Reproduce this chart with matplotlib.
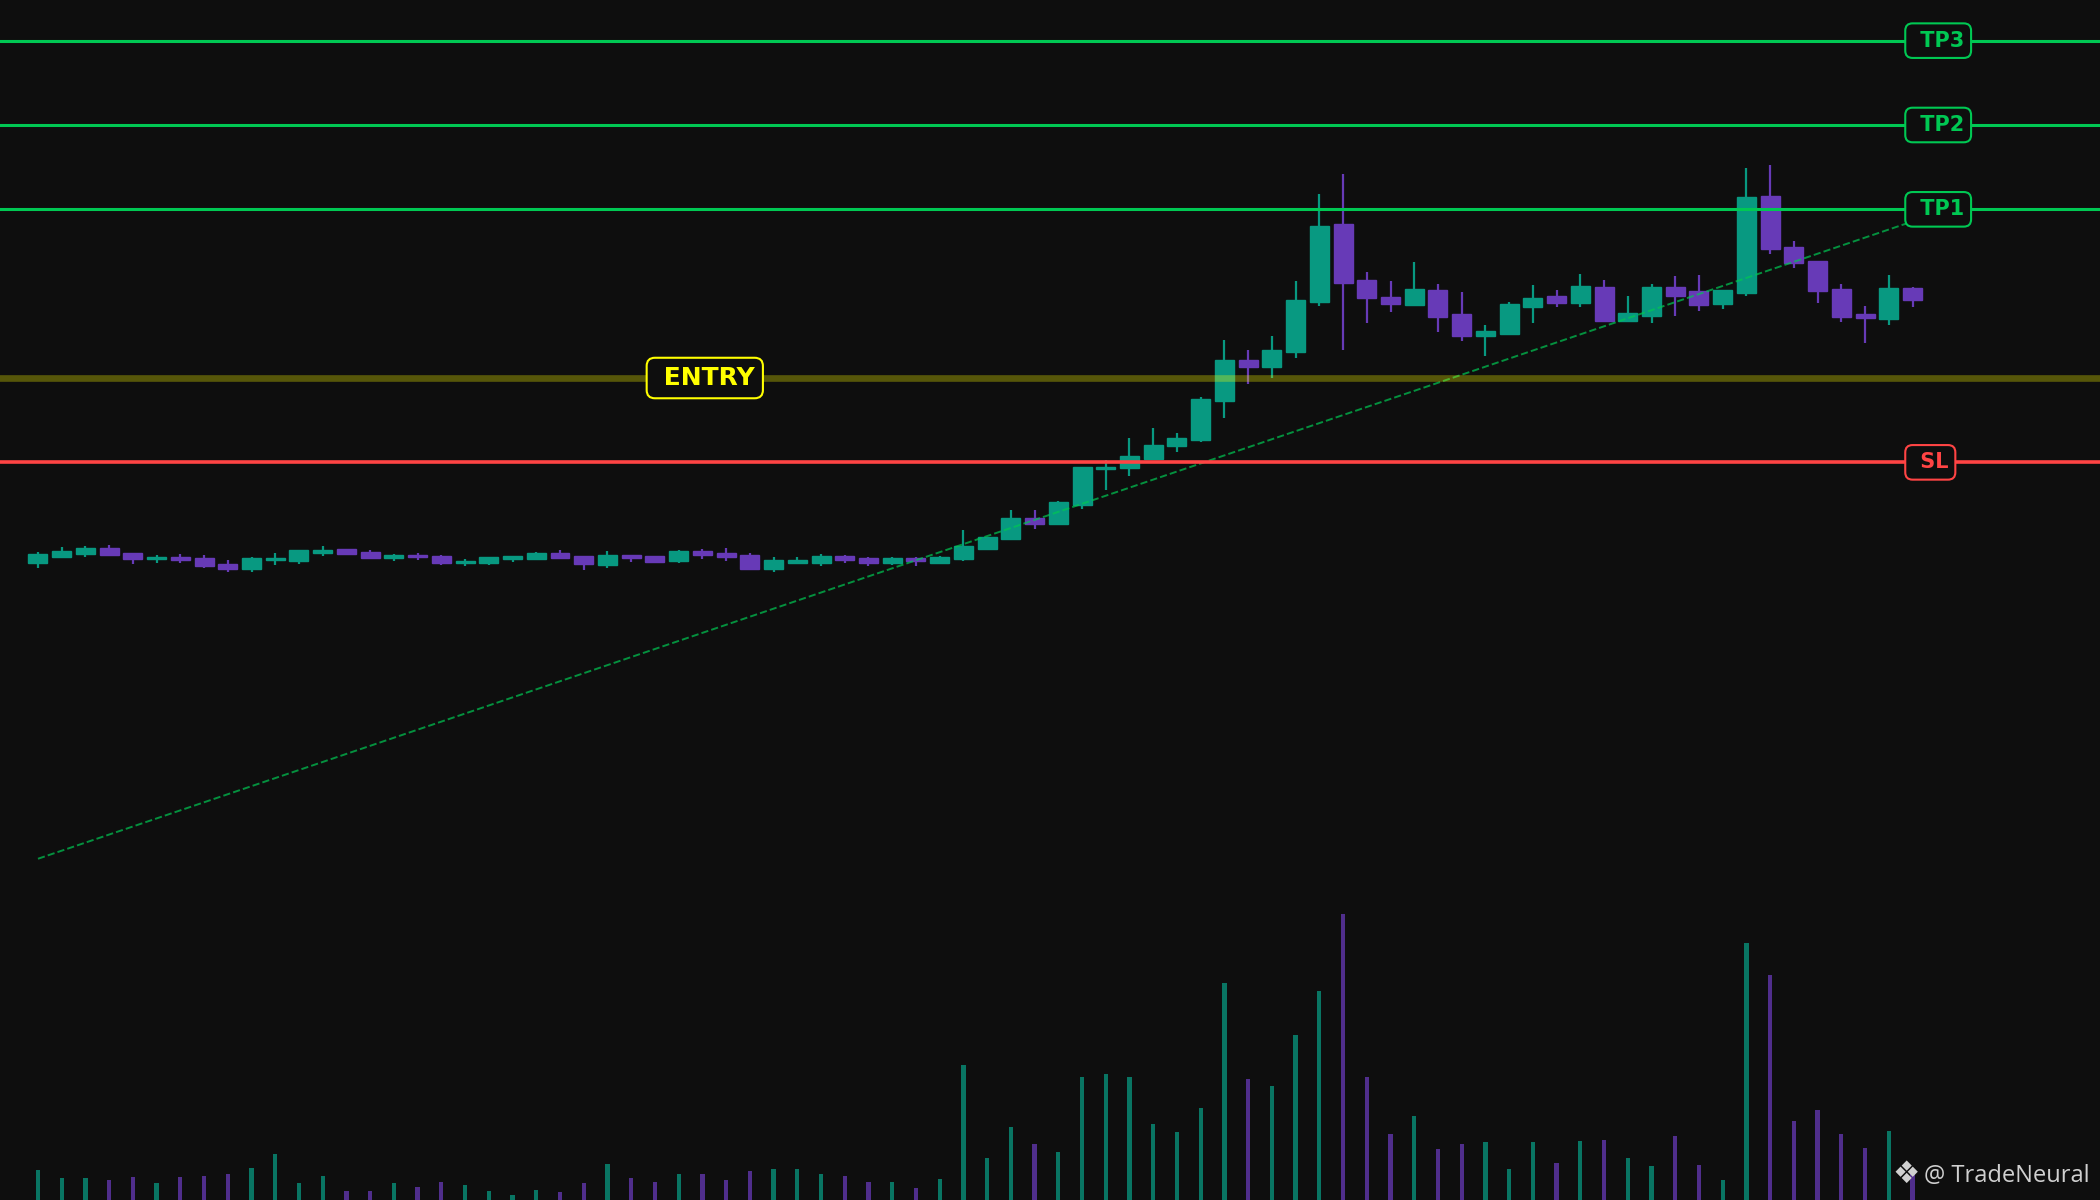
import matplotlib
matplotlib.use('Agg')
import matplotlib.pyplot as plt
import numpy as np

# candle data
opens = [89.01, 89.41, 89.59, 89.90, 89.61, 89.25, 89.37, 89.31, 88.97, 88.66,
         89.19, 89.13, 89.61, 89.84, 89.67, 89.31, 89.49, 89.43, 89.01, 89.01,
         89.25, 89.25, 89.61, 89.43, 88.90, 89.49, 89.43, 89.17, 89.73, 89.61,
         89.49, 88.70, 89.05, 89.05, 89.45, 89.31, 89.01, 89.31, 89.05, 89.25,
         89.88, 90.44, 91.68, 91.33, 92.45, 94.59, 94.64, 95.22, 95.95, 96.31,
         98.62, 101.05, 100.67, 101.52, 104.48, 109.11, 105.79, 104.78, 104.33, 105.20,
         103.77, 102.51, 102.63, 104.23, 104.84, 104.47, 105.37, 103.40, 103.69, 105.37,
         105.14, 104.41, 105.06, 110.77, 107.75, 106.92, 105.26, 103.77, 103.52, 105.32]
highs = [89.69, 89.98, 90.04, 90.10, 89.61, 89.51, 89.57, 89.51, 89.21, 89.37,
         89.63, 89.78, 90.04, 89.84, 89.80, 89.57, 89.63, 89.51, 89.27, 89.37,
         89.47, 89.69, 89.80, 89.43, 89.75, 89.53, 89.43, 89.80, 89.86, 89.92,
         89.63, 89.39, 89.39, 89.57, 89.51, 89.37, 89.37, 89.37, 89.43, 90.99,
         90.56, 92.18, 92.18, 92.71, 94.70, 95.14, 96.44, 97.04, 96.74, 98.85,
         102.25, 101.66, 102.49, 105.75, 110.91, 112.09, 106.28, 105.75, 106.88, 105.57,
         105.10, 103.14, 104.51, 105.51, 105.22, 106.16, 105.81, 104.86, 105.57, 106.05,
         106.11, 105.20, 112.45, 112.63, 108.12, 106.92, 105.57, 104.27, 106.11, 105.39]
lows = [88.76, 89.41, 89.41, 89.49, 88.99, 89.05, 89.05, 88.76, 88.52, 88.52,
        88.94, 88.99, 89.47, 89.55, 89.31, 89.17, 89.23, 88.94, 88.88, 88.94,
        89.11, 89.21, 89.27, 88.64, 88.76, 89.11, 89.03, 89.03, 89.27, 89.15,
        88.64, 88.52, 88.97, 88.88, 89.03, 88.88, 88.94, 88.88, 88.99, 89.15,
        89.81, 90.44, 91.05, 91.33, 92.23, 93.36, 94.21, 95.22, 95.61, 96.23,
        97.63, 99.64, 100.00, 101.21, 104.29, 101.66, 103.26, 103.91, 104.27, 102.73,
        102.19, 101.30, 102.55, 103.26, 104.21, 104.21, 103.40, 103.40, 103.26, 103.68,
        103.97, 104.09, 104.86, 107.35, 106.52, 104.45, 103.32, 102.08, 103.14, 104.21]
closes = [89.55, 89.73, 89.90, 89.49, 89.25, 89.37, 89.19, 88.84, 88.66, 89.31,
          89.31, 89.78, 89.78, 89.55, 89.31, 89.49, 89.37, 89.01, 89.13, 89.37,
          89.43, 89.61, 89.31, 88.95, 89.49, 89.31, 89.11, 89.73, 89.49, 89.37,
          88.70, 89.19, 89.19, 89.43, 89.19, 89.05, 89.31, 89.13, 89.37, 90.02,
          90.56, 91.68, 91.33, 92.63, 94.70, 94.70, 95.36, 96.01, 96.42, 98.73,
          101.05, 100.63, 101.64, 104.60, 108.99, 105.61, 104.72, 104.37, 105.26, 103.64,
          102.51, 102.77, 104.37, 104.72, 104.47, 105.43, 103.40, 103.83, 105.37, 104.88,
          104.35, 105.20, 110.71, 107.63, 106.80, 105.14, 103.64, 103.54, 105.32, 104.64]
volumes = [30, 22, 22, 20, 23, 17, 23, 24, 26, 32,
           46, 17, 24, 9, 9, 17, 13, 18, 15, 9,
           5, 10, 8, 17, 36, 22, 18, 26, 26, 20,
           29, 31, 31, 26, 24, 18, 18, 12, 21, 135,
           42, 73, 56, 48, 123, 126, 123, 76, 68, 92,
           217, 121, 114, 165, 209, 286, 123, 66, 84, 51,
           56, 58, 31, 58, 37, 59, 60, 42, 34, 64,
           35, 20, 257, 225, 79, 90, 66, 52, 69, 28]

# trade levels
entry = 100.0
stop_loss = 95.0
targets = [110.0, 115.0, 120.0]
target_names = ['TP1', 'TP2', 'TP3']

# projected trend line endpoints (candle index, price)
trend_x = [0, 80.5]
trend_y = [71.5, 110.0]

BG = '#0e0e0e'
UP = '#089981'
DOWN = '#673ab7'
TP_COLOR = '#00c853'
SL_COLOR = '#ff4444'
ENTRY_COLOR = '#ffff00'

o = np.array(opens)
h = np.array(highs)
l = np.array(lows)
c = np.array(closes)
v = np.array(volumes)
x = np.arange(len(o))
colors = np.where(c >= o, UP, DOWN)

fig = plt.figure(figsize=(21, 12), dpi=100, facecolor=BG)
ax = fig.add_axes([0, 0, 1, 1])
ax.set_facecolor(BG)

# volume on a twin axis, squeezed into the bottom
ax2 = ax.twinx()
ax2.bar(x, v, width=0.18, color=colors, alpha=0.75, zorder=1)
ax2.set_ylim(0, v.max() * 4.2)
ax2.axis('off')

# candles
ax.vlines(x, l, h, colors=colors, linewidth=1.6, zorder=2)
body = np.abs(c - o)
body = np.maximum(body, 0.06)
ax.bar(x, body, bottom=np.minimum(o, c), width=0.8, color=colors,
       edgecolor=colors, linewidth=1, zorder=3)

# trend projection
ax.plot(trend_x, trend_y, '--', color=TP_COLOR, alpha=0.7, linewidth=1.4, zorder=4)

# levels
for tp in targets:
    ax.axhline(tp, color=TP_COLOR, linewidth=2.2, zorder=5)
ax.axhline(stop_loss, color=SL_COLOR, linewidth=2.6, zorder=5)
ax.axhline(entry, color=ENTRY_COLOR, alpha=0.3, linewidth=4.8, zorder=5)

label_x = x[-1]
for tp, name in zip(targets, target_names):
    ax.text(label_x, tp, ' ' + name, color=TP_COLOR, fontsize=15, fontweight='bold',
            ha='left', va='center', zorder=7,
            bbox=dict(boxstyle='round,pad=0.35', fc=BG, ec=TP_COLOR, lw=1.5))
ax.text(label_x, stop_loss, ' SL', color=SL_COLOR, fontsize=15, fontweight='bold',
        ha='left', va='center', zorder=7,
        bbox=dict(boxstyle='round,pad=0.35', fc=BG, ec=SL_COLOR, lw=1.5))
ax.text(26, entry, ' ENTRY', color=ENTRY_COLOR, fontsize=18, fontweight='bold',
        ha='left', va='center', zorder=7,
        bbox=dict(boxstyle='round,pad=0.33', fc=BG, ec=ENTRY_COLOR, lw=1.5))

ax.set_xlim(-1.6, 86.9)
ax.set_ylim(51.27, 122.41)
ax.axis('off')

# watermark
fig.text(0.9952, 0.015, '@ TradeNeural', color='#d0d0d0', fontsize=17,
         family=['Open Sans', 'DejaVu Sans'], ha='right', va='baseline')
fig.text(0.9075, 0.0215, '\u2756', color='#d0d0d0', fontsize=22,
         family='DejaVu Sans', ha='center', va='center')

fig.savefig('out.png', dpi=100, facecolor=BG)
